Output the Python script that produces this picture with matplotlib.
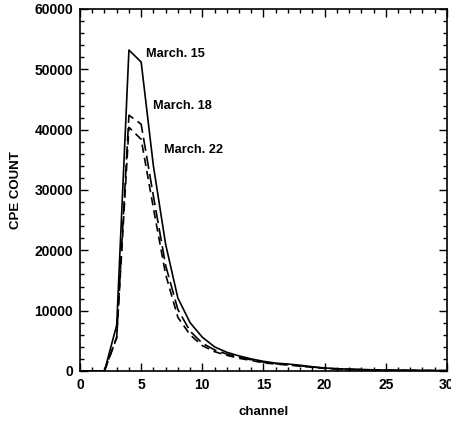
import matplotlib
matplotlib.use("Agg")
import matplotlib.pyplot as plt
from matplotlib.ticker import MultipleLocator

# channel numbers
channel = list(range(0, 31))

# CPE counts
march15 = [0, 0, 0, 7600, 53200, 51200, 34000, 21000, 12100, 8000, 5600, 4000,
           3100, 2500, 2000, 1600, 1300, 1150, 950, 700, 500, 380, 300, 240,
           190, 160, 130, 110, 90, 70, 60]
march18 = [0, 0, 0, 5600, 42400, 40900, 29000, 17500, 10200, 6600, 4600, 3500,
           2800, 2300, 1850, 1450, 1200, 1050, 850, 650, 450, 350, 280, 220,
           180, 150, 120, 100, 80, 60, 50]
march22 = [0, 0, 0, 5500, 40400, 38400, 27000, 16000, 8900, 6000, 4200, 3200,
           2600, 2100, 1750, 1350, 1150, 1000, 800, 600, 420, 330, 260, 210,
           170, 140, 110, 90, 70, 55, 45]

labels = ["March. 15", "March. 18", "March. 22"]

plt.rcParams['font.family'] = ['Liberation Sans', 'DejaVu Sans']
plt.rcParams['font.weight'] = 'bold'

fig = plt.figure(figsize=(4.51, 4.22), dpi=100)
ax = fig.add_axes([0.1774, 0.1209, 0.8136, 0.8578])

ax.plot(channel, march15, color='black', lw=1.2, linestyle='-')
ax.plot(channel, march18, color='black', lw=1.2, linestyle=(0, (8, 3)))
ax.plot(channel, march22, color='black', lw=1.2, linestyle=(0, (5, 3)))

ax.text(5.4, 52500, labels[0], fontsize=9.2, fontweight='bold', va='center')
ax.text(5.95, 44000, labels[1], fontsize=9.2, fontweight='bold', va='center')
ax.text(6.85, 36700, labels[2], fontsize=9.2, fontweight='bold', va='center')

ax.set_xlim(0, 30)
ax.set_ylim(0, 60000)
ax.xaxis.set_major_locator(MultipleLocator(5))
ax.xaxis.set_minor_locator(MultipleLocator(1))
ax.yaxis.set_major_locator(MultipleLocator(10000))
ax.yaxis.set_minor_locator(MultipleLocator(2000))
ax.tick_params(which='both', direction='in', top=True, right=True, labelsize=10)
ax.tick_params(which='major', length=6, width=1, pad=5)
ax.tick_params(which='minor', length=3, width=1)
for lab in ax.get_xticklabels() + ax.get_yticklabels():
    lab.set_fontweight('bold')
for s in ax.spines.values():
    s.set_linewidth(1.2)

ax.set_xlabel('channel', fontsize=9.5, fontweight='bold', labelpad=10)
ax.set_ylabel('CPE COUNT', fontsize=9.5, fontweight='bold', labelpad=9)

fig.savefig('out.png', dpi=100)
